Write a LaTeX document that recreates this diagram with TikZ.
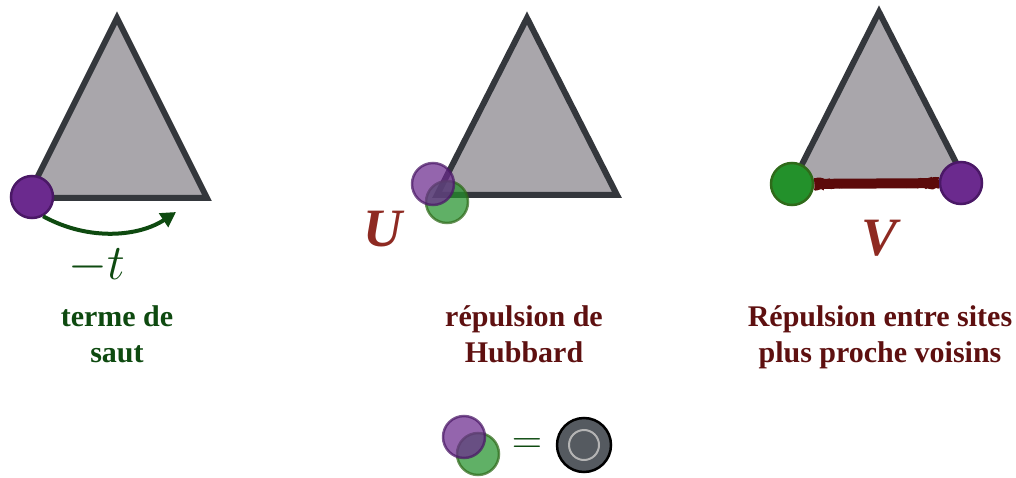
\RequirePackage{fix-cm}
\documentclass[tikz,border=0pt]{standalone}
\usepackage{fontspec}
\setmainfont{Liberation Serif}
\usetikzlibrary{arrows.meta,decorations.pathmorphing}
\definecolor{trifill}{HTML}{A9A6AB}
\definecolor{triedge}{HTML}{34373C}
\definecolor{sitepurple}{HTML}{6B2A8E}
\definecolor{sitepurpleedge}{HTML}{4A1866}
\definecolor{sitegreen}{HTML}{23912B}
\definecolor{sitegreenedge}{HTML}{2F6A1A}
\definecolor{hopgreen}{HTML}{0E4A10}
\definecolor{labelred}{HTML}{5E1010}
\definecolor{coupling}{HTML}{8E2A22}
\definecolor{bondred}{HTML}{5C0A0A}
\definecolor{pairgray}{HTML}{555A60}
\definecolor{pairring}{HTML}{B4B4B4}

\begin{document}
\begin{tikzpicture}[x=1pt, y=-1pt,
  lattice/.style={fill=trifill, draw=triedge, line width=6pt, line join=miter},
  site/.style={circle, minimum size=42pt, inner sep=0pt, line width=2.5pt},
  upsite/.style={site, fill=sitepurple, draw=sitepurpleedge},
  downsite/.style={site, fill=sitegreen, draw=sitegreenedge},
  ghost/.style={opacity=0.72},
  caption/.style={align=center, anchor=base, font=\fontsize{30}{36}\selectfont\bfseries},
  coupl/.style={font=\fontsize{54}{60}\selectfont\bfseries\itshape, text=coupling},
  hop/.style={-{Triangle[length=15pt,width=16pt]}, line width=4pt, color=hopgreen},
  bond/.style={line width=10pt, color=bondred},
  frayed/.style={line width=1.6pt, color=bondred, decorate, decoration={random steps, segment length=2pt, amplitude=1.2pt}}
]
  \useasboundingbox (0,0) rectangle (1016,478);

  % hopping
  \draw[lattice] (117,18) -- (207,198) -- (27,198) -- cycle;
  \node[upsite] (hopsite) at (32,197) {};
  \coordinate (hopend) at (176,212);
  \draw[hop] (hopsite.-60) .. controls (90,242) and (140,236) .. (hopend);
  \node[font=\fontsize{50}{60}\selectfont, text=hopgreen] (hoplabel) at (97,266) {$-t$};
  \node[caption, text=hopgreen] (hopcap) at (117,362) {terme de\\saut};

  % on-site repulsion
  \draw[lattice] (527,18) -- (617,195) -- (437,195) -- cycle;
  \node[downsite, ghost] (hubdown) at (447,202) {};
  \node[upsite, ghost] (hubup) at (433,184) {};
  \node[coupl] (hublabel) at (383,229) {U};
  \node[caption, text=labelred] (hubcap) at (524,362) {répulsion de\\Hubbard};

  % nearest-neighbour repulsion
  \draw[lattice] (792,184) -- (879,12) -- (967,184);
  \node[downsite] (nnleft) at (792,184) {};
  \node[upsite] (nnright) at (961,183) {};
  \draw[bond] (nnleft) -- (nnright);
  \draw[frayed] (nnleft.east) ++(0,-5) -- ([yshift=-5pt]nnright.west);
  \draw[frayed] (nnleft.east) ++(0,5) -- ([yshift=5pt]nnright.west);
  \node[coupl] (nnlabel) at (879,238) {V};
  \node[caption, text=labelred] (nncap) at (880,362) {Répulsion entre sites\\plus proche voisins};

  % legend
  \node[downsite, ghost] (pairdown) at (478,454) {};
  \node[upsite, ghost] (pairup) at (464,437) {};
  \node[font=\fontsize{42}{48}\selectfont, text=hopgreen] (equals) at (527,446) {$=$};
  \node[circle, minimum size=54pt, inner sep=0pt, fill=pairgray, draw=black, line width=2.5pt] (pair) at (584,445) {};
  \draw[pairring, line width=2pt] (pair.center) circle[radius=15pt];
\end{tikzpicture}
\end{document}
